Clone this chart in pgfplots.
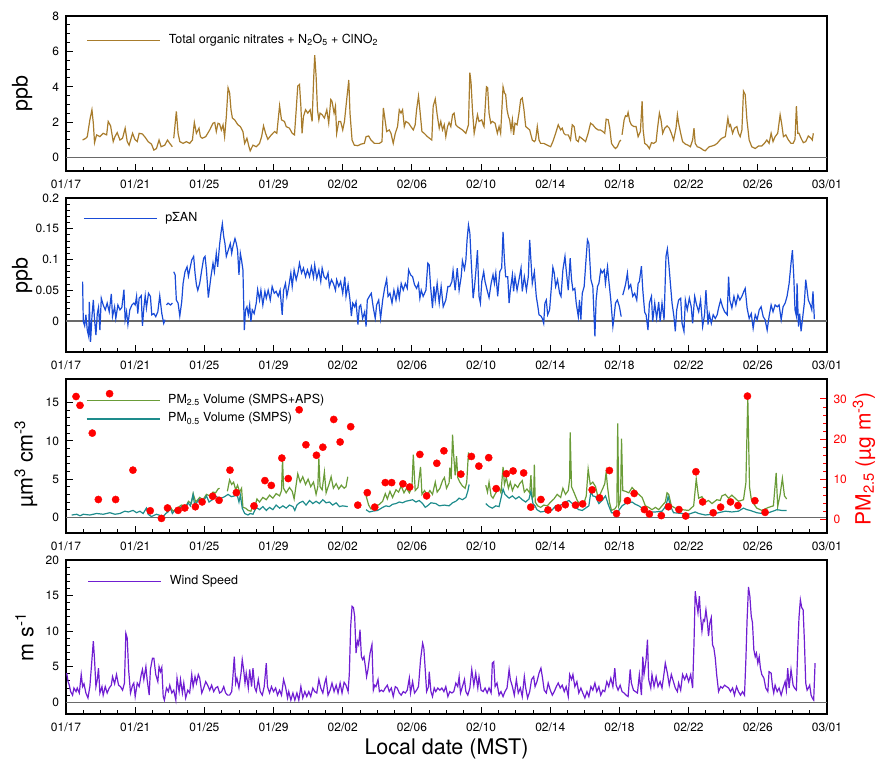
\documentclass[border=0pt]{standalone}
\usepackage{fontspec}
\setmainfont{TeX Gyre Heros}
\usepackage{pgfplots}
\pgfplotsset{compat=1.18}

\definecolor{nitr}{RGB}{168,124,44}
\definecolor{pan}{RGB}{25,75,215}
\definecolor{pmgreen}{RGB}{106,156,56}
\definecolor{pmteal}{RGB}{30,140,140}
\definecolor{wind}{RGB}{112,30,210}
\definecolor{zeroline}{RGB}{105,105,105}

\newcommand{\ticksize}{\fontsize{12}{14}\selectfont}
\newcommand{\labsize}{\fontsize{21.5}{24}\selectfont}

\pgfplotsset{
  panel/.style={
    scale only axis, width=761pt,
    xmin=0, xmax=44,
    xtick={0,4,...,44},
    xticklabels={01/17,01/21,01/25,01/29,02/02,02/06,02/10,02/14,02/18,02/22,02/26,03/01},
    minor x tick num=3,
    tick align=inside, tick pos=left,
    major tick length=7pt, minor tick length=4pt,
    tick style={black, line width=0.9pt},
    axis line style={line width=1.8pt},
    tick label style={font=\ticksize},
    xticklabel style={yshift=-5pt},
    yticklabel style={xshift=-3.5pt},
    /pgf/number format/assume math mode=true,
    ylabel style={font=\labsize, anchor=center},
    unbounded coords=jump,
    legend cell align=left,
    legend style={draw=none, fill=none, inner sep=0pt, outer sep=0pt, anchor=west,
      nodes={inner sep=0pt, font=\fontsize{12.5}{15}\selectfont, text height=9pt, text depth=3pt},
      /tikz/every odd column/.append style={column sep=8pt}},
    legend image code/.code={\draw[##1] (0pt,0pt) -- (73pt,0pt);},
  },
  zero/.style={zeroline, line width=1.5pt, forget plot},
}

\begin{document}
\begin{tikzpicture}[x=1pt,y=1pt]
\useasboundingbox (0,0) rectangle (878,759);

% ---------- panel 1: total organic nitrates ----------
\begin{axis}[panel, at={(66pt,588pt)}, anchor=south west, height=155pt,
  ymin=-0.76, ymax=8, ytick={0,2,4,6,8}, yticklabels={0,2,4,6,8}, minor y tick num=3,
  ylabel={ppb}, ylabel style={at={(axis description cs:-0.0578,0.5)}},
  legend style={at={(0.0272,0.8406)}}]
\addplot[zero] coordinates {(0,0) (44,0)};
\addplot[nitr, line width=1.2pt] coordinates {
(0.96,0.99)(1.15,1.09)(1.23,1.18)(1.38,2.13)(1.50,2.70)(1.58,1.94)(1.65,0.84)(1.77,1.28)(1.96,1.18)(2.15,1.37)(2.35,1.28)(2.44,2.04)(2.58,1.79)(2.73,0.90)(2.83,1.18)(2.96,1.41)(3.12,0.99)(3.27,1.09)(3.42,1.66)(3.54,0.90)(3.65,0.70)(3.85,1.37)(3.98,1.03)(4.12,0.90)(4.23,1.37)(4.42,1.33)(4.58,1.14)(4.75,0.90)(4.94,0.76)(5.08,0.42)(5.23,0.51)(5.38,0.99)(5.50,0.61)(5.71,0.70)(5.87,0.99)(6.00,0.80)(6.15,0.61)
(6.19,nan)
(6.23,1.09)(6.38,2.61)(6.48,1.37)(6.58,0.90)(6.77,0.80)(6.96,0.90)(7.15,0.80)(7.31,0.99)(7.42,1.98)(7.54,1.37)(7.69,1.66)(7.77,1.18)(7.88,1.09)(8.08,1.18)(8.31,1.56)(8.50,1.94)(8.60,1.98)(8.69,1.47)(8.79,1.94)(8.88,1.90)(8.98,1.56)(9.08,1.85)(9.17,1.18)(9.27,2.32)(9.37,3.94)(9.46,3.66)(9.54,2.70)(9.62,2.23)(9.75,2.13)(9.94,1.85)(10.08,1.75)(10.23,1.47)(10.33,0.80)(10.46,1.09)(10.58,0.61)(10.65,0.38)(10.81,0.70)(11.00,0.61)(11.19,0.80)(11.31,1.18)(11.42,1.79)(11.54,1.37)(11.67,1.03)(11.87,1.28)(12.06,1.47)(12.19,1.37)(12.35,2.93)(12.46,2.13)(12.63,2.04)(12.73,1.75)(12.92,1.66)(13.08,1.37)(13.21,1.28)(13.31,2.70)(13.40,4.04)(13.50,4.13)(13.58,2.90)(13.65,1.37)(13.73,2.32)(13.85,2.70)(13.98,2.51)(14.12,2.70)(14.23,2.04)(14.31,4.23)(14.38,5.79)(14.46,4.61)(14.54,2.70)(14.62,2.13)(14.69,2.51)(14.81,2.42)(14.94,2.23)(15.08,2.70)(15.19,1.94)(15.31,3.28)(15.38,3.18)(15.50,2.51)(15.58,2.90)(15.65,1.37)(15.77,2.04)(15.88,2.04)(16.00,1.56)(16.10,2.04)(16.23,3.28)(16.35,4.38)(16.42,2.51)(16.54,0.99)(16.67,0.70)(16.87,0.67)(17.06,0.76)(17.25,0.80)(17.35,1.18)(17.50,1.22)(17.63,0.99)(17.83,0.80)(18.12,0.80)(18.27,0.90)(18.35,2.80)(18.42,2.32)(18.54,1.47)(18.69,1.56)(18.79,1.37)(18.92,0.80)(19.04,1.37)(19.17,1.75)(19.27,2.70)(19.37,2.51)(19.46,2.70)(19.56,1.75)(19.65,2.04)(19.81,1.94)(19.94,1.75)(20.08,1.56)(20.19,1.85)(20.27,2.70)(20.38,3.47)(20.46,2.70)(20.58,1.47)(20.71,1.37)(20.90,1.18)(21.15,0.99)
(21.23,2.90)(21.35,3.31)(21.46,2.42)(21.58,1.66)(21.67,2.04)(21.77,1.56)(21.87,1.85)(21.96,1.18)(22.06,1.75)(22.15,1.98)(22.25,1.75)(22.35,2.42)(22.44,2.51)(22.54,1.85)(22.63,1.75)(22.77,1.66)(22.92,1.56)(23.12,1.37)(23.27,1.85)(23.35,4.80)(23.42,4.23)(23.50,2.70)(23.60,1.37)(23.69,1.85)(23.79,2.42)(23.88,2.04)(24.04,2.13)(24.12,1.85)(24.17,1.75)(24.31,4.00)(24.38,3.94)(24.46,2.51)(24.56,1.94)(24.65,2.04)(24.81,1.94)(24.94,1.37)(25.04,1.75)(25.13,1.37)(25.27,4.00)(25.35,3.66)(25.42,3.56)(25.50,2.70)(25.58,2.32)(25.65,2.13)(25.73,1.56)(25.81,2.13)(25.88,1.28)(25.96,1.94)(26.08,1.85)(26.19,2.51)(26.29,3.28)(26.38,3.37)(26.48,2.70)(26.58,1.75)(26.69,1.66)(26.81,1.56)(26.96,0.99)(27.08,0.90)(27.15,0.99)(27.25,1.75)(27.35,0.99)(27.44,0.80)(27.63,0.80)(27.83,0.70)(28.02,0.61)(28.15,0.90)(28.31,1.37)(28.46,1.85)(28.60,1.56)(28.69,1.66)(28.79,1.37)(28.88,1.28)(29.04,1.28)(29.17,0.99)(29.27,1.85)(29.38,1.75)(29.50,0.99)(29.62,0.90)(29.69,1.18)(29.81,1.09)(29.94,0.99)(30.04,0.90)(30.19,1.37)(30.33,1.94)(30.46,1.85)(30.62,1.66)(30.77,1.56)(30.90,1.56)(31.04,1.47)(31.15,1.37)(31.23,2.17)(31.35,2.13)(31.44,1.66)(31.54,0.80)(31.67,0.61)(31.77,0.51)(31.88,0.61)(32.00,0.90)(32.08,0.99)
(32.12,nan)
(32.15,1.28)(32.27,2.13)(32.35,2.36)(32.44,2.32)(32.50,2.55)(32.60,2.04)(32.69,1.85)(32.83,1.75)(32.96,1.75)(33.08,1.18)(33.21,1.47)(33.31,3.18)(33.37,1.56)(33.46,0.80)(33.60,0.70)(33.73,0.51)(33.85,0.84)(33.98,0.80)(34.12,0.90)(34.19,1.56)(34.31,2.51)(34.40,2.13)(34.50,1.37)(34.62,1.66)(34.75,1.79)(34.88,1.66)(35.00,1.37)(35.13,0.99)(35.27,1.66)(35.35,2.42)(35.42,1.94)(35.54,1.37)(35.65,0.90)(35.81,0.76)(35.96,0.70)(36.10,0.61)(36.23,0.99)(36.31,1.66)(36.38,0.80)(36.50,0.61)(36.62,0.57)(36.73,0.51)(36.85,0.42)(36.96,0.38)(37.08,0.51)(37.19,0.61)(37.35,0.65)(37.50,0.70)(37.65,0.80)(37.81,0.99)(37.92,1.09)(38.12,1.18)(38.27,2.23)(38.35,1.75)(38.42,1.85)(38.54,1.37)(38.65,1.66)(38.79,1.75)(38.88,1.37)(38.98,1.18)(39.08,1.56)(39.17,3.75)(39.27,3.56)(39.37,2.13)(39.50,0.99)(39.65,0.61)(39.85,0.51)(40.04,0.65)(40.23,0.65)(40.38,0.80)(40.52,0.99)(40.65,0.80)(40.77,1.37)(40.88,0.90)(41.00,1.18)(41.15,1.37)(41.29,2.42)(41.38,1.90)(41.48,1.18)(41.62,1.28)(41.77,0.99)(41.92,0.80)(42.04,0.80)(42.15,1.03)(42.23,2.90)(42.31,1.37)(42.38,1.37)(42.50,1.09)(42.63,0.84)(42.77,0.90)(42.92,1.22)(43.08,1.09)(43.15,0.99)(43.21,1.37)
};
\addlegendentry{Total organic nitrates + N\textsubscript{2}O\textsubscript{5} + ClNO\textsubscript{2}}
\end{axis}

% ---------- panel 2: p-sum-AN ----------
\begin{axis}[panel, at={(66pt,406.7pt)}, anchor=south west, height=154.3pt,
  ymin=-0.051, ymax=0.2, ytick={0,0.05,0.1,0.15,0.2}, yticklabels={0,0.05,0.1,0.15,0.2}, minor y tick num=4,
  ylabel={ppb}, ylabel style={at={(axis description cs:-0.0578,0.5)}},
  legend style={at={(0.0227,0.8684)}}]
\addplot[zero] coordinates {(0,0) (44,0)};
\addplot[pan, line width=1.2pt] coordinates {
(0.96,0.064)(1.00,-0.001)(1.08,-0.008)(1.15,0.010)(1.23,-0.015)(1.31,-0.025)(1.35,0.031)(1.42,-0.034)(1.50,0.007)(1.58,0.034)(1.65,0.002)(1.73,-0.023)(1.81,0.012)(1.88,0.022)(1.96,-0.015)(2.04,0.037)(2.15,0.026)(2.27,0.018)(2.38,0.029)(2.50,0.015)(2.62,0.044)(2.69,0.007)(2.81,0.023)(2.88,0.004)(3.00,0.026)(3.12,0.018)(3.23,0.022)(3.35,0.051)(3.42,0.002)(3.50,0.015)(3.58,-0.006)(3.69,0.018)(3.81,0.026)(3.92,0.029)(4.00,0.026)(4.08,0.040)(4.15,0.012)(4.23,0.037)(4.35,0.041)(4.42,-0.008)(4.50,0.021)(4.58,0.041)(4.65,0.021)(4.77,0.045)(4.88,0.040)(4.96,0.010)(5.08,0.012)(5.19,0.007)(5.31,0.015)(5.42,0.041)(5.54,0.012)(5.65,-0.004)(5.73,0.002)
(5.77,nan)
(5.81,0.026)(5.90,0.029)(6.04,0.026)(6.15,0.029)
(6.19,nan)
(6.23,0.080)(6.31,0.075)(6.38,0.034)(6.48,0.029)(6.58,0.008)(6.69,0.031)(6.77,0.061)(6.88,0.080)(7.00,0.088)(7.08,0.073)(7.15,0.083)(7.27,0.099)(7.38,0.105)(7.46,0.078)(7.54,0.059)(7.62,0.050)(7.73,0.061)(7.85,0.083)(7.96,0.102)(8.04,0.105)(8.12,0.083)(8.23,0.038)(8.31,0.056)(8.38,0.072)(8.50,0.094)(8.58,0.080)(8.69,0.110)(8.77,0.088)(8.88,0.124)(8.96,0.143)(9.04,0.158)(9.12,0.137)(9.19,0.126)(9.27,0.105)(9.38,0.115)(9.50,0.126)(9.58,0.110)(9.65,0.121)(9.77,0.134)(9.85,0.126)(9.92,0.115)(10.00,0.075)(10.08,0.110)(10.15,0.099)(10.23,0.083)(10.31,-0.015)(10.38,0.018)(10.46,0.023)(10.54,0.010)(10.62,0.026)(10.69,-0.001)(10.77,0.018)(10.88,0.012)(11.00,0.029)(11.08,0.051)(11.19,0.034)(11.27,0.050)(11.38,0.026)(11.50,0.048)(11.58,0.037)(11.69,0.050)(11.81,0.034)(11.92,0.056)(12.04,0.045)(12.15,0.048)(12.27,0.040)(12.38,0.050)(12.50,0.010)(12.58,0.050)(12.69,0.061)(12.77,0.040)(12.88,0.056)(13.00,0.078)(13.08,0.056)(13.19,0.083)(13.31,0.067)(13.42,0.080)(13.50,0.094)(13.62,0.078)(13.73,0.086)(13.85,0.072)(13.96,0.083)(14.08,0.072)(14.19,0.088)(14.31,0.071)(14.38,0.091)(14.50,0.069)(14.62,0.083)(14.73,0.064)(14.81,0.086)(14.92,0.072)(15.04,0.068)(15.15,0.078)(15.23,0.056)(15.35,0.067)(15.46,0.061)(15.58,0.050)(15.65,0.067)(15.77,0.056)(15.88,0.064)(16.00,0.045)(16.12,0.072)(16.19,0.040)(16.31,0.059)(16.42,0.034)(16.50,0.008)(16.58,0.029)(16.69,0.023)(16.77,0.031)(16.88,-0.006)(16.96,0.023)(17.04,0.026)(17.15,0.004)(17.27,0.015)(17.35,-0.009)(17.42,0.034)(17.54,0.040)(17.65,0.045)(17.77,0.021)(17.88,0.004)(17.96,0.026)(18.08,0.034)(18.19,0.004)(18.31,0.034)(18.42,0.053)(18.54,0.068)(18.62,0.040)(18.73,0.045)(18.85,0.029)(18.96,0.050)(19.08,0.034)(19.19,0.053)(19.27,0.037)(19.38,0.061)(19.50,0.050)(19.62,0.061)(19.73,0.053)(19.81,0.083)(19.92,0.075)(20.04,0.072)(20.15,0.059)(20.27,0.053)(20.38,0.061)(20.46,0.037)(20.54,0.050)(20.65,0.040)(20.81,0.050)(20.92,0.094)(21.00,0.091)(21.08,0.056)(21.19,0.021)(21.27,0.056)(21.35,0.034)(21.46,0.061)(21.58,0.029)(21.69,0.056)(21.81,0.023)(21.96,0.034)(22.08,0.056)
(22.19,0.056)(22.31,0.064)(22.38,0.082)(22.50,0.050)(22.62,0.086)(22.73,0.050)(22.85,0.072)(22.92,0.098)(23.04,0.084)(23.12,0.099)(23.19,0.132)(23.27,0.156)(23.35,0.143)(23.42,0.102)(23.54,0.037)(23.62,0.056)(23.69,0.078)(23.79,0.115)(23.88,0.040)(23.96,0.029)(24.04,0.064)(24.15,0.080)(24.23,0.064)(24.35,0.050)(24.46,0.038)(24.58,0.061)(24.69,0.075)(24.77,0.061)(24.85,0.078)(24.96,0.040)(25.08,0.080)(25.19,0.086)(25.27,0.145)(25.35,0.099)(25.42,0.072)(25.54,0.072)(25.62,0.029)(25.69,0.050)(25.81,0.075)(25.88,0.048)(25.96,0.072)(26.08,0.050)(26.19,0.067)(26.31,0.086)(26.38,0.048)(26.50,0.072)(26.62,0.050)(26.73,0.072)(26.81,0.132)(26.88,0.099)(26.96,0.061)(27.08,0.080)(27.19,0.040)(27.27,0.026)(27.35,0.010)(27.46,0.008)(27.54,0.004)(27.62,-0.004)(27.69,0.029)(27.77,0.034)(27.85,0.010)(27.96,0.018)(28.08,0.061)(28.15,0.087)(28.23,0.078)(28.31,0.056)(28.42,0.067)(28.54,0.045)(28.62,0.040)(28.73,0.083)(28.85,0.105)(28.92,0.083)(29.04,0.050)(29.15,0.102)(29.23,0.067)(29.31,0.050)(29.42,0.053)(29.50,0.029)(29.62,0.007)(29.69,0.034)(29.77,0.002)(29.85,0.045)(29.96,0.056)(30.08,0.105)(30.15,0.132)(30.23,0.126)(30.35,0.067)(30.46,0.056)(30.58,-0.025)(30.65,0.034)(30.73,0.056)(30.81,0.061)(30.92,0.083)(31.00,0.078)(31.12,0.083)(31.19,0.061)(31.31,0.088)(31.38,0.067)(31.50,0.034)(31.62,-0.009)(31.69,0.007)(31.77,0.029)(31.88,0.034)(32.00,0.023)(32.10,0.007)
(32.15,nan)
(32.19,0.042)(32.27,0.050)(32.35,0.059)(32.46,0.078)(32.54,0.053)(32.65,0.059)(32.77,0.040)(32.88,0.045)(33.00,0.034)(33.08,0.061)(33.15,0.064)(33.27,0.089)(33.35,0.050)(33.46,0.014)(33.54,0.010)(33.65,-0.015)(33.73,0.029)(33.85,0.040)(33.92,-0.001)(34.04,0.029)(34.15,0.004)(34.27,0.031)(34.35,-0.001)(34.46,0.029)(34.58,0.002)(34.69,0.105)(34.77,0.117)(34.85,0.094)(34.96,0.056)(35.04,0.029)(35.15,0.007)(35.23,-0.017)(35.31,0.018)(35.42,0.034)(35.54,0.037)(35.62,-0.004)(35.73,-0.017)(35.81,0.034)(35.92,0.018)(36.04,0.037)(36.15,0.023)(36.23,-0.004)(36.35,0.040)(36.46,0.026)(36.58,0.015)(36.69,0.034)(36.81,-0.009)(36.92,0.010)(37.00,0.050)(37.12,-0.006)(37.19,0.012)(37.31,-0.004)(37.42,0.010)(37.54,0.004)(37.65,0.010)(37.73,0.021)(37.85,0.034)(37.96,0.023)(38.08,0.015)(38.23,0.010)(38.31,0.072)(38.38,0.034)(38.50,0.021)(38.62,0.040)(38.73,0.026)(38.85,0.042)(38.96,0.034)(39.08,0.040)(39.19,0.048)(39.27,0.053)(39.38,0.021)(39.50,0.004)(39.62,0.012)(39.73,-0.012)(39.85,0.010)(39.96,0.002)(40.08,0.018)(40.19,0.023)(40.31,0.007)(40.42,0.002)(40.54,-0.015)(40.65,0.007)(40.77,0.026)(40.88,0.015)(41.00,0.026)(41.12,0.023)(41.23,0.026)(41.35,0.002)(41.46,0.023)(41.58,0.029)(41.69,0.040)(41.81,0.061)(41.92,0.094)(42.00,0.115)(42.08,0.072)(42.15,0.018)(42.23,0.008)(42.27,0.061)(42.35,-0.009)(42.42,0.012)(42.50,-0.017)(42.62,0.012)(42.69,0.029)(42.77,0.067)(42.85,0.050)(42.92,0.034)(43.04,0.026)(43.12,0.018)(43.19,0.048)(43.27,0.003)
};
\addlegendentry{pΣAN}
\end{axis}

% ---------- panel 3: PM volume (left) ----------
\begin{axis}[panel, at={(66pt,225.7pt)}, anchor=south west, height=154pt,
  ymin=-2.09, ymax=18.05, ytick={0,5,10,15}, yticklabels={0,5,10,15}, minor y tick num=4,
  ylabel={µm\textsuperscript{3} cm\textsuperscript{-3}}, ylabel style={at={(axis description cs:-0.0526,0.45)}},
  legend style={at={(0.0263,0.8016)}, row sep=6.3pt}]
\addplot[zero] coordinates {(0,0) (44,0)};
\addplot[pmgreen, line width=1.2pt] coordinates {
(5.81,0.7)(6.04,1.3)(6.19,0.8)(6.38,1.1)(6.67,1.6)(6.96,1.5)(7.08,2.1)(7.25,1.8)(7.35,3.1)(7.50,2.0)(7.73,2.6)(7.92,2.3)(8.12,3.0)(8.31,2.8)(8.50,3.3)(8.65,3.2)(8.79,3.7)(8.88,3.8)
(9.10,nan)
(9.33,3.4)(9.46,4.9)(9.58,4.3)(9.69,4.6)(9.81,3.6)(9.92,4.2)(10.04,3.3)(10.15,3.8)(10.23,1.3)(10.38,1.2)(10.54,0.9)(10.69,0.8)(10.81,1.6)(10.92,1.4)(11.04,2.4)(11.19,2.0)(11.38,2.6)(11.58,2.3)(11.77,2.9)(11.96,2.5)(12.15,3.1)(12.35,2.8)(12.46,3.5)(12.52,7.6)(12.58,3.8)(12.73,3.2)(12.92,3.9)(13.08,3.4)(13.19,2.4)(13.31,4.3)(13.40,5.7)(13.54,4.6)(13.69,5.3)(13.85,4.3)(14.00,5.0)(14.15,4.0)(14.31,4.6)(14.46,3.0)(14.56,4.0)(14.62,7.7)(14.69,4.0)(14.81,3.6)(14.94,5.9)(15.04,3.2)(15.19,4.2)(15.33,5.3)(15.46,3.8)(15.62,4.4)(15.77,3.7)(15.92,4.2)(16.08,3.8)(16.19,4.0)(16.29,5.3)
(16.80,nan)
(17.35,2.8)(17.50,1.6)(17.63,1.1)(17.83,1.3)(18.12,1.7)(18.31,2.1)(18.46,3.1)(18.58,2.4)(18.73,3.4)(18.88,2.6)(19.08,3.6)(19.23,3.3)(19.38,4.1)(19.54,3.2)(19.69,3.8)(19.85,3.2)(20.00,3.9)(20.08,8.2)(20.19,3.5)(20.35,3.9)(20.50,6.6)(20.58,3.0)(20.73,3.5)(20.88,2.9)(21.04,3.5)(21.19,3.0)(21.35,4.6)(21.46,3.3)(21.62,3.8)(21.77,4.8)(21.88,5.2)(22.00,3.8)(22.15,4.5)(22.19,6.5)(22.27,5.0)(22.35,10.8)(22.42,8.0)(22.50,5.5)(22.58,8.0)(22.65,5.2)(22.77,4.6)(22.92,4.1)(23.08,3.8)(23.17,4.6)(23.27,8.5)(23.31,7.5)
(23.80,nan)
(24.27,4.2)(24.37,3.3)(24.46,4.6)(24.58,2.8)(24.69,2.5)(24.85,3.2)(25.04,3.8)(25.15,3.2)(25.27,6.6)(25.35,4.3)(25.46,5.2)(25.58,3.8)(25.69,4.6)(25.81,3.5)(25.96,4.3)(26.12,3.9)(26.23,4.4)(26.38,4.8)(26.50,3.3)(26.65,3.7)(26.81,3.2)(26.88,5.5)(26.96,2.5)(27.04,2.8)(27.08,6.9)(27.13,2.0)(27.27,1.5)(27.44,1.3)(27.63,1.6)(27.83,1.5)(28.02,2.0)(28.21,2.4)(28.40,3.0)(28.60,2.6)(28.73,3.8)(28.88,3.0)(29.04,3.5)(29.12,5.0)(29.15,11.1)(29.23,4.0)(29.38,3.2)(29.56,2.2)(29.75,1.6)(29.94,1.8)(30.08,2.8)(30.19,6.3)(30.31,4.3)(30.46,4.6)(30.62,4.0)(30.77,2.5)(30.90,3.1)(31.04,3.8)(31.15,4.4)(31.23,5.9)(31.31,4.0)(31.42,2.0)(31.54,0.9)(31.73,1.1)(31.85,1.5)(31.90,12.3)(31.96,1.5)(32.06,2.2)(32.12,10.3)(32.19,3.5)(32.35,3.4)(32.54,3.2)(32.73,3.9)(32.92,3.4)(33.12,3.0)(33.31,2.6)(33.50,1.5)(33.69,1.3)(33.88,1.0)(34.08,1.3)(34.27,1.0)(34.46,1.5)(34.65,2.0)(34.75,3.2)(34.85,3.0)(35.00,1.5)(35.23,1.2)(35.62,1.0)(36.00,0.9)(36.29,1.5)(36.44,5.0)(36.58,2.5)(36.77,2.7)(36.96,2.0)(37.15,2.2)(37.35,1.8)(37.63,2.3)(37.83,2.2)(37.92,2.8)(38.12,3.0)(38.31,2.5)(38.50,2.9)(38.88,2.1)(39.17,2.3)(39.31,4.5)(39.42,15.7)(39.52,4.0)(39.62,2.4)(39.75,1.8)(39.94,1.2)(40.23,0.9)(40.62,1.3)(40.90,1.5)(41.06,5.8)(41.15,1.4)(41.29,3.0)(41.42,5.1)(41.54,2.8)(41.67,2.4)
};
\addlegendentry{PM\textsubscript{2.5} Volume (SMPS+APS)}
\addplot[pmteal, line width=1.2pt] coordinates {
(0.33,0.3)(0.62,0.4)(0.81,0.2)(1.00,0.4)(1.38,0.3)(1.77,0.5)(2.15,0.4)(2.54,0.6)(2.83,0.4)(3.12,0.5)(3.40,0.8)(3.60,0.7)(3.88,0.9)(4.08,0.6)(4.27,0.8)(4.46,0.5)(4.65,1.2)(4.75,0.4)(4.94,0.1)(5.23,0.4)(5.62,0.1)(5.77,0.5)(5.90,0.7)(6.04,1.2)(6.15,0.5)(6.29,0.9)(6.48,1.0)(6.67,1.4)(6.87,1.2)(7.06,1.9)(7.19,1.5)(7.35,3.0)(7.44,1.5)(7.58,2.0)(7.73,2.4)(7.92,2.0)(8.12,2.8)(8.27,2.0)(8.46,2.3)(8.60,2.8)(8.79,2.6)(8.98,2.5)(9.17,2.7)(9.37,3.0)(9.56,2.7)(9.75,2.8)(9.88,3.1)(10.00,2.0)(10.08,2.9)(10.19,1.2)(10.33,0.5)(10.52,0.3)(10.65,0.5)(10.81,0.4)(11.00,1.3)(11.19,1.0)(11.38,1.4)(11.58,0.9)(11.77,1.3)(11.96,1.0)(12.15,1.6)(12.35,1.2)(12.54,1.5)(12.73,1.2)(12.92,1.6)(13.12,1.4)(13.23,0.9)(13.35,1.6)(13.50,1.9)(13.69,2.1)(13.88,1.6)(14.08,2.2)(14.27,1.8)(14.46,2.1)(14.65,1.8)(14.85,2.3)(15.04,1.9)(15.23,2.0)(15.42,1.6)(15.62,1.9)(15.81,1.4)(16.00,1.5)(16.29,1.4)
(16.80,nan)
(17.35,1.0)(17.54,0.7)(17.73,0.8)(18.02,0.9)(18.31,1.3)(18.50,1.5)(18.69,1.4)(18.88,1.7)(19.08,1.8)(19.27,2.0)(19.46,1.9)(19.65,2.1)(19.85,2.2)(20.04,2.3)(20.23,2.0)(20.42,2.2)(20.62,1.8)(20.77,1.3)(20.90,1.5)(21.10,1.9)(21.38,1.8)(21.58,1.5)(21.87,1.6)(22.15,1.5)(22.35,1.9)(22.54,2.1)(22.73,2.5)(22.92,2.3)(23.12,2.6)(23.23,3.4)(23.31,4.3)
(23.80,nan)
(24.27,1.8)(24.46,1.4)(24.65,1.2)(24.85,1.5)(25.04,1.4)(25.27,3.7)(25.38,3.0)(25.62,2.5)(25.81,2.8)(26.00,2.4)(26.19,2.7)(26.38,2.3)(26.58,2.0)(26.77,2.4)(26.88,3.4)(27.00,1.8)(27.12,1.5)(27.23,1.0)(27.44,0.7)(27.73,0.8)(27.92,0.6)(28.12,1.0)(28.31,1.5)(28.50,1.5)(28.69,1.7)(28.88,2.0)(29.08,2.2)(29.27,1.8)(29.46,1.3)(29.65,1.0)(29.85,0.9)(30.04,1.2)(30.23,1.5)(30.35,3.4)(30.46,2.8)(30.62,2.7)(30.81,1.8)(31.00,2.2)(31.19,2.8)(31.38,1.5)(31.54,0.6)(31.77,0.6)(31.96,0.9)(32.15,1.5)(32.35,1.8)(32.54,1.9)(32.73,2.0)(32.92,1.7)(33.12,1.5)(33.31,1.2)(33.50,0.8)(33.69,0.7)(34.08,0.7)(34.46,0.8)(34.69,1.5)(34.81,2.7)(34.94,1.5)(35.13,0.6)(35.62,0.5)(36.00,0.4)(36.38,0.7)(36.58,0.5)(36.96,0.3)(37.35,0.4)(37.73,0.6)(38.12,0.8)(38.50,0.7)(38.88,0.8)(39.17,1.2)(39.37,1.0)(39.56,0.9)(39.94,0.6)(40.23,0.5)(40.62,0.6)(41.00,0.9)(41.10,1.0)(41.38,0.9)(41.67,0.9)
};
\addlegendentry{PM\textsubscript{0.5} Volume (SMPS)}
\end{axis}

% ---------- panel 3: PM2.5 mass (right) ----------
\begin{axis}[scale only axis, width=761pt, height=154pt, at={(66pt,225.7pt)}, anchor=south west,
  xmin=0, xmax=44, axis x line=none, axis y line*=right,
  ymin=-3.4, ymax=34.88, ytick={0,10,20,30}, yticklabels={0,10,20,30}, minor y tick num=4,
  ytick align=inside, major tick length=7pt, minor tick length=4pt,
  y axis line style={black, line width=1.8pt},
  tick style={red, line width=0.9pt},
  yticklabel style={red, font=\ticksize, xshift=3pt},
  /pgf/number format/assume math mode=true,
  ylabel={PM\textsubscript{2.5} (µg m\textsuperscript{-3})},
  ylabel style={red, font=\fontsize{21}{24}\selectfont, at={(axis description cs:1.0486,0.482)}, anchor=center}]
\addplot[only marks, mark=*, mark size=3.6pt, color=red] coordinates {
(0.58,30.6)(0.81,28.4)(1.52,21.5)(1.87,5.0)(2.52,31.3)(2.87,5.0)(3.87,12.3)(4.87,2.2)(5.52,0.3)(5.87,2.9)(6.48,2.3)(6.87,2.9)(7.48,3.2)(7.87,4.4)(8.48,5.8)(8.85,4.8)(9.48,12.3)(9.85,6.7)(10.87,3.4)(11.50,9.7)(11.87,8.5)(12.48,15.3)(12.85,10.2)(13.48,27.3)(13.87,18.6)(14.48,16.0)(14.85,18.0)(15.48,24.9)(15.85,19.3)(16.46,23.1)(16.87,3.6)(17.42,6.7)(17.85,3.1)(18.46,9.2)(18.83,9.2)(19.48,8.9)(19.87,8.1)(20.46,16.2)(20.85,5.9)(21.44,14.0)(21.85,17.1)(22.83,11.3)(23.44,15.7)(23.87,13.3)(24.44,15.4)(24.87,7.7)(25.46,11.4)(25.85,12.1)(26.46,11.6)(26.87,3.1)(27.46,5.0)(27.87,2.4)(28.46,2.9)(28.87,3.7)(29.46,3.6)(29.87,3.9)(30.42,7.4)(30.85,5.4)(31.42,12.2)(31.83,1.5)(32.46,4.7)(32.85,6.5)(33.44,2.5)(33.73,1.4)(34.42,1.0)(34.83,3.2)(35.44,2.5)(35.83,0.9)(36.42,11.9)(36.81,4.4)(37.42,1.7)(37.85,3.1)(38.42,4.4)(38.85,3.5)(39.40,30.7)(39.83,4.7)(40.42,1.8)
};
\end{axis}

% ---------- panel 4: wind speed ----------
\begin{axis}[panel, at={(66pt,45pt)}, anchor=south west, height=154pt,
  ymin=-1.65, ymax=20, ytick={0,5,10,15,20}, yticklabels={0,5,10,15,20}, minor y tick num=4,
  ylabel={m s\textsuperscript{-1}}, ylabel style={at={(axis description cs:-0.0545,0.5)}},
  xlabel={Local date (MST)},
  xlabel style={font=\labsize, at={(axis description cs:0.5,0)}, anchor=base, yshift=-41pt},
  legend style={at={(0.0285,0.859)}}]
\addplot[zero] coordinates {(0,0) (44,0)};
\addplot[wind, line width=1.2pt] coordinates {
(0.04,4.1)(0.12,2.9)(0.19,2.4)(0.27,1.5)(0.38,1.0)(0.46,2.0)(0.58,1.5)(0.65,2.0)(0.77,1.3)(0.88,3.9)(0.96,2.2)(1.04,2.6)(1.15,1.3)(1.27,0.6)(1.38,2.2)(1.50,6.0)(1.58,8.6)(1.65,6.0)(1.73,2.2)(1.81,3.2)(1.88,4.8)(1.96,1.3)(2.08,2.2)(2.15,1.0)(2.27,2.2)(2.38,1.3)(2.50,2.0)(2.62,2.4)(2.69,3.6)(2.81,2.6)(2.92,3.9)(3.04,2.4)(3.15,2.2)(3.27,1.7)(3.38,2.7)(3.46,9.7)(3.54,9.0)(3.62,4.6)(3.73,1.3)(3.85,2.4)(3.92,2.7)(4.00,0.8)(4.12,2.7)(4.23,2.2)(4.35,3.9)(4.42,4.6)(4.50,3.2)(4.62,5.0)(4.69,3.2)(4.81,1.0)(4.88,4.6)(5.00,6.2)(5.08,6.2)(5.19,3.9)(5.31,2.9)(5.38,5.0)(5.46,4.3)(5.54,4.9)(5.62,0.8)(5.69,0.3)(5.81,2.0)(5.92,1.5)(6.00,2.4)(6.12,1.3)(6.23,1.7)(6.35,0.3)(6.42,3.4)(6.54,1.5)(6.62,3.2)(6.73,1.3)(6.81,2.7)(6.92,0.6)(7.04,1.7)(7.15,1.3)(7.27,3.9)(7.35,2.2)(7.46,3.6)(7.54,2.7)(7.65,3.9)(7.73,3.4)(7.85,1.3)(7.96,2.0)(8.08,2.9)(8.19,2.4)(8.31,1.7)(8.42,2.4)(8.54,1.5)(8.65,2.0)(8.77,2.2)(8.88,1.3)(9.00,1.5)(9.12,2.2)(9.23,1.3)(9.35,1.0)(9.46,1.0)(9.58,1.5)(9.65,3.6)(9.73,6.4)(9.81,2.7)(9.88,3.4)(10.00,2.0)(10.12,4.1)(10.19,6.0)(10.27,4.6)(10.35,2.7)(10.42,4.1)(10.54,2.0)(10.62,4.6)(10.73,2.2)(10.81,4.8)(10.92,2.0)(11.00,1.5)(11.12,3.2)(11.23,1.5)(11.35,1.0)(11.46,2.2)(11.58,5.5)(11.65,2.2)(11.77,1.3)(11.88,2.2)(12.00,1.5)(12.12,2.0)(12.23,1.0)(12.35,1.7)(12.46,1.0)(12.58,3.2)(12.69,2.2)(12.81,0.6)(12.88,1.5)(13.00,0.3)(13.12,1.3)(13.23,0.3)(13.35,1.3)(13.46,0.3)(13.58,2.2)(13.69,0.6)(13.81,1.5)(13.92,0.8)(14.04,1.5)(14.15,0.8)(14.27,2.0)(14.38,1.5)(14.50,1.3)(14.62,3.2)(14.73,2.0)(14.85,1.3)(14.96,2.7)(15.04,3.4)(15.15,1.0)(15.27,1.7)(15.38,2.7)(15.50,1.5)(15.62,2.4)(15.73,1.3)(15.85,2.7)(15.96,1.3)(16.08,2.8)(16.19,2.4)(16.31,1.5)(16.38,3.9)(16.46,10.7)(16.54,13.5)(16.62,13.3)(16.69,12.1)(16.77,6.9)(16.85,8.6)(16.92,8.1)(17.00,10.2)(17.08,6.4)(17.15,6.0)(17.23,6.4)(17.31,5.0)(17.38,3.6)(17.46,4.6)(17.58,6.9)(17.69,8.1)(17.77,1.7)(17.85,2.4)(17.92,2.2)(18.04,3.2)(18.12,1.5)(18.23,1.7)(18.35,1.5)(18.46,2.0)(18.58,2.4)(18.69,1.5)(18.81,2.0)(18.92,0.8)(19.04,2.2)(19.15,2.0)(19.27,1.3)(19.38,1.0)(19.50,1.5)(19.62,1.3)(19.73,1.7)(19.85,3.4)(19.92,1.3)(20.04,2.9)(20.15,1.3)(20.27,1.7)(20.38,2.2)(20.50,6.0)(20.62,8.3)(20.69,7.6)(20.77,4.6)(20.85,1.5)(20.96,2.2)
(21.00,4.3)(21.10,1.5)(21.19,0.8)(21.29,2.0)(21.38,1.5)(21.50,2.0)(21.62,1.7)(21.73,2.0)(21.85,1.5)(21.96,2.2)(22.08,0.8)(22.19,1.5)(22.31,1.3)(22.42,1.5)(22.54,2.7)(22.65,2.2)(22.73,3.6)(22.81,1.3)(22.92,2.2)(23.04,3.2)(23.12,1.5)(23.23,1.0)(23.35,2.0)(23.46,4.6)(23.58,2.4)(23.69,4.1)(23.81,2.0)(23.88,3.6)(24.00,1.7)(24.12,1.5)(24.23,2.0)(24.35,1.3)(24.46,2.0)(24.58,1.3)(24.65,5.5)(24.73,5.7)(24.81,2.2)(24.92,2.7)(25.04,1.0)(25.15,1.5)(25.27,0.8)(25.38,1.5)(25.50,2.0)(25.62,4.6)(25.69,3.2)(25.81,2.2)(25.92,1.0)(26.04,3.2)(26.15,1.3)(26.27,2.0)(26.38,0.8)(26.50,3.6)(26.58,2.0)(26.69,0.6)(26.81,1.5)(26.92,3.2)(27.04,3.6)(27.12,2.2)(27.23,2.9)(27.35,4.1)(27.46,4.8)(27.54,3.6)(27.65,1.7)(27.77,1.3)(27.88,2.7)(28.00,1.7)(28.12,1.0)(28.23,1.5)(28.35,2.2)(28.46,2.7)(28.58,2.0)(28.69,2.4)(28.81,1.5)(28.92,2.2)(29.04,0.8)(29.12,3.9)(29.23,3.2)(29.31,3.9)(29.42,2.2)(29.54,2.9)(29.65,1.3)(29.77,2.0)(29.88,1.3)(30.00,0.6)(30.12,1.5)(30.23,0.8)(30.35,2.2)(30.46,1.7)(30.58,2.7)(30.69,1.5)(30.81,2.2)(30.92,1.0)(31.04,1.7)(31.15,1.5)(31.27,2.9)(31.38,2.2)(31.50,3.4)(31.62,2.2)(31.73,4.8)(31.81,2.4)(31.92,1.7)(32.04,2.4)(32.15,1.5)(32.27,1.3)(32.38,1.0)(32.50,0.8)(32.62,4.6)(32.69,2.7)(32.81,1.7)(32.92,1.5)(33.04,1.3)(33.15,3.9)(33.27,1.0)(33.35,6.4)(33.42,3.9)(33.54,6.0)(33.62,8.8)(33.69,3.2)(33.81,2.0)(33.88,3.9)(34.00,2.2)(34.12,3.6)(34.23,2.2)(34.35,2.9)(34.46,2.0)(34.58,4.1)(34.65,5.5)(34.77,4.1)(34.88,2.4)(35.00,3.9)(35.12,2.9)(35.23,2.0)(35.35,1.5)(35.42,2.7)(35.54,1.7)(35.65,3.9)(35.77,3.2)(35.88,3.9)(36.00,2.9)(36.12,3.9)(36.23,2.0)(36.31,8.3)(36.38,15.6)(36.46,14.0)(36.54,12.6)(36.62,14.9)(36.69,12.1)(36.77,10.0)(36.85,11.6)(36.92,11.4)(37.00,13.0)(37.08,11.4)(37.15,9.3)(37.23,11.2)(37.31,11.9)(37.38,8.1)(37.46,7.6)(37.54,6.2)(37.62,3.9)(37.73,1.5)(37.85,2.2)(37.96,2.0)(38.08,2.4)(38.19,2.2)(38.31,2.0)(38.42,1.5)(38.54,2.0)(38.65,1.0)(38.77,2.2)(38.88,1.5)(39.00,1.0)(39.12,1.5)(39.23,1.0)(39.31,6.0)(39.38,11.6)(39.46,16.2)(39.54,14.9)(39.62,12.1)(39.69,11.2)(39.77,7.4)(39.85,6.4)(39.92,6.9)(40.00,5.5)(40.08,6.4)(40.15,4.8)(40.23,3.9)(40.35,3.4)(40.46,2.0)(40.58,1.5)(40.65,4.3)(40.77,4.1)(40.85,2.2)(40.92,1.3)(41.00,2.4)(41.12,1.5)(41.23,2.0)(41.35,1.0)(41.46,2.0)(41.58,2.9)(41.65,1.7)(41.73,4.8)(41.81,2.0)(41.92,4.6)(42.04,2.4)(42.12,2.0)(42.23,1.7)(42.31,7.6)(42.38,11.9)(42.46,14.4)(42.54,13.3)(42.62,13.0)(42.69,8.8)(42.77,2.7)(42.85,1.7)(42.92,2.0)(43.00,2.4)(43.08,1.0)(43.15,0.6)(43.23,0.3)(43.31,5.5)
};
\addlegendentry{Wind Speed}
\end{axis}
\end{tikzpicture}
\end{document}
